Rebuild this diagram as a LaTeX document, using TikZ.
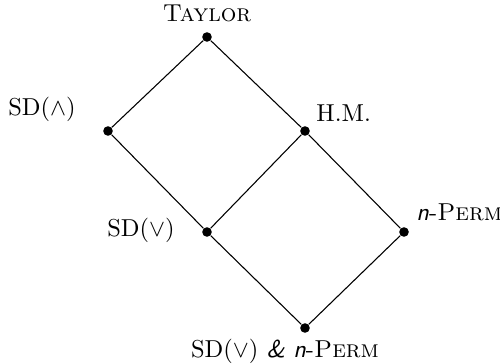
\documentclass[tikz,border=0pt]{standalone}
\begin{document}
\begin{tikzpicture}[x=0.4167pt,y=-0.4167pt,
  pt/.style={circle,fill=black,inner sep=0pt,minimum size=4pt},
  lbl/.style={inner sep=0pt,font=\fontsize{10.2}{12}\selectfont},
  edge/.style={line width=0.45pt}]
\useasboundingbox (0,0) rectangle (500,364);
\node[pt] (t) at (207,37) {};
\node[pt] (a) at (108,131) {};
\node[pt] (h) at (305,131) {};
\node[pt] (v) at (207,232) {};
\node[pt] (n) at (404,232) {};
\node[pt] (b) at (305,328) {};
\draw[edge] (t) -- (a) -- (v) -- (b) -- (n) -- (h) -- (t);
\draw[edge] (h) -- (v);
\node[lbl,anchor=base] (lt) at (207,22) {\textsc{Taylor}};
\node[lbl,anchor=base] (la) at (42,116) {SD($\wedge$)};
\node[lbl,anchor=base west] (lh) at (316,122) {H.M.};
\node[lbl,anchor=base] (lv) at (141,237) {SD($\vee$)};
\node[lbl,anchor=base west] (ln) at (416,221) {\textsf{\textit{n}}-\textsc{Perm}};
\node[lbl,anchor=base] (lb) at (285,357) {SD($\vee$) \textsf{\textit{\&}} \textsf{\textit{n}}-\textsc{Perm}};
\end{tikzpicture}
\end{document}
